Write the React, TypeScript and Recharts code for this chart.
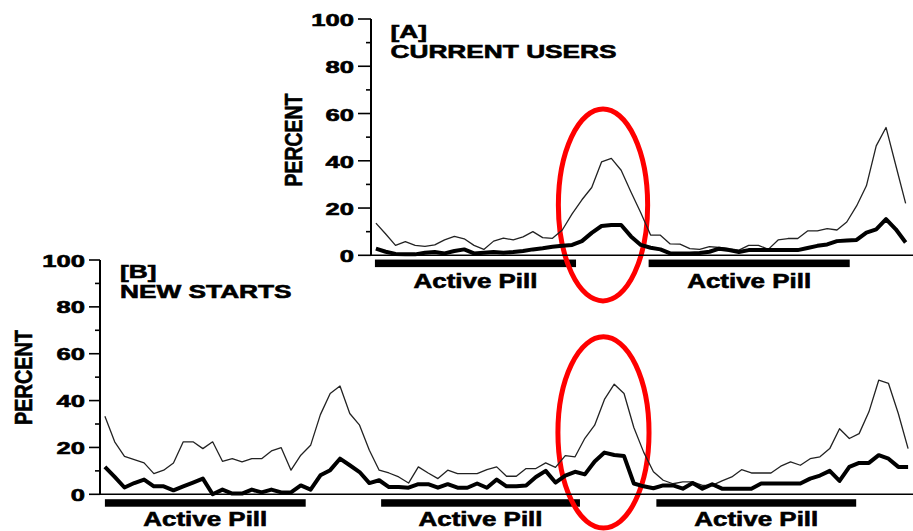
import React from 'react';
import { LineChart, Line, XAxis, YAxis, ReferenceArea } from 'recharts';

const W = 913;
const H = 531;
const FONT = '"Liberation Sans", Arial, Helvetica, sans-serif';

// ---- Panel A: current users (cycle day index 0..54) ----
const bleedingOrSpottingA = [
  13.6, 9, 4.2, 5.8, 4.2, 3.8, 4.4, 6.5, 8, 7,
  4.2, 2.5, 6, 7.3, 6.5, 7.8, 10, 7.5, 7.2, 10.7,
  17.5, 23.5, 28.7, 39.5, 41, 36, 26.8, 18, 8.6, 8.5,
  4.8, 4.7, 2.8, 2.5, 3.7, 3.3, 2.8, 2.2, 4.2, 4.2,
  2.5, 6.5, 7.1, 7.1, 10.3, 10.3, 11.3, 10.7, 14.1, 20.9,
  29.4, 46.3, 54.1, 38, 22,
];
const bleedingA = [
  2.8, 1.5, 0.6, 0.4, 0.4, 1.1, 1.4, 0.8, 1.8, 2.5,
  0.8, 1.1, 1.4, 1.1, 1.4, 1.8, 2.5, 3, 3.6, 4,
  4.4, 6, 9.5, 12.4, 12.8, 12.8, 8, 4.4, 3.2, 2.5,
  0.8, 0.8, 0.8, 1, 1.5, 2.8, 2.2, 1.4, 2.2, 2.2,
  2.2, 2.2, 2.2, 2.2, 3.1, 4, 4.6, 6, 6.3, 6.5,
  9.6, 11, 15.3, 11, 5.4,
];
const activePillA: [number, number][] = [[-0.1, 20.4], [27.8, 48.3]];
const highlightDaysA: [number, number] = [18.6, 27.7];
const highlightPercentA: [number, number] = [-19.3, 61.9];

// ---- Panel B: new starts (cycle day index 0..82) ----
const bleedingOrSpottingB = [
  33.3, 22.4, 16.2, 14.8, 13.4, 8.8, 10.3, 13.4, 22.4, 22.4,
  19.5, 22.4, 14.1, 15.2, 13.8, 15.2, 15.2, 18.5, 19.9, 10.3,
  16.7, 20.9, 34, 43, 46.2, 34.5, 29.5, 18.8, 10.3, 9.1,
  7.4, 4.8, 11.7, 9.1, 6.7, 10.3, 8.8, 8.8, 8.8, 10.5,
  11.7, 7.7, 7.7, 11, 11, 13.4, 11.5, 16.5, 16, 23.9,
  29.5, 40.5, 47, 43, 28.5, 18, 9.6, 6, 4.5, 5.3,
  5.3, 3.8, 3.8, 5.7, 7.4, 10.5, 9.1, 9.1, 9.1, 12,
  13.8, 12.4, 15.2, 16, 19.5, 28, 23.8, 25.9, 35.2, 48.7,
  47.3, 34.5, 19.5,
];
const bleedingB = [
  11.7, 7.4, 2.9, 4.8, 6.3, 3.4, 3.4, 1.7, 3.4, 5,
  6.7, 0, 2, 0.3, 0.3, 2, 0.8, 2, 0.8, 0.8,
  3.8, 2, 8.1, 10.3, 15.2, 12.4, 9.5, 4.8, 6, 3.1,
  3.1, 2.8, 4.3, 4.3, 2.8, 4.3, 2.8, 2.8, 4.6, 2.8,
  6.3, 3.4, 3.4, 3.8, 7.4, 10, 5, 8, 9.6, 8.5,
  14, 17.8, 16.8, 16.3, 4.6, 3.4, 2.6, 3.8, 3.8, 2.4,
  4.8, 2.4, 4.3, 2.4, 2.4, 2.4, 2.4, 4.6, 4.6, 4.6,
  4.6, 4.6, 6.7, 8, 10, 5.7, 11.7, 13.4, 13.4, 16.7,
  15.2, 11.7, 11.7,
];
const activePillB: [number, number][] = [[0, 20.5], [28.2, 48.5], [56.3, 76.7]];
const highlightDaysB: [number, number] = [46.25, 55.55];
const highlightPercentB: [number, number] = [-14.4, 67.2];

const percentTicks = [0, 10, 20, 30, 40, 50, 60, 70, 80, 90, 100];
const labelledStep = 20;

const rowsA = bleedingOrSpottingA.map((v, i) => ({ day: i, any: v, heavy: bleedingA[i] }));
const rowsB = bleedingOrSpottingB.map((v, i) => ({ day: i, any: v, heavy: bleedingB[i] }));

// heavy, slightly outlined bold type
const boldText = {
  fontWeight: 700,
  fontFamily: FONT,
  fill: '#000',
  stroke: '#000',
  strokeWidth: 0.6,
} as const;

function percentTick(majorLen: number, gap: number, baseShift: number) {
  return (p: any) => {
    const { x, y, payload } = p;
    const major = payload.value % labelledStep === 0;
    return (
      <g>
        <line x1={x - (major ? majorLen : 5)} x2={x} y1={y} y2={y} stroke="#000" strokeWidth={1.6} />
        {major && (
          <text
            transform={`translate(${x - majorLen - gap},${y + baseShift}) scale(1.55,1)`}
            textAnchor="end"
            fontSize={16.5}
            {...boldText}
          >
            {payload.value}
          </text>
        )}
      </g>
    );
  };
}

function pillShape(labelGap: number) {
  return (p: any) => {
    const { x, y, width, height } = p;
    return (
      <g>
        <rect x={x} y={y} width={width} height={height} fill="#000" />
        <text
          transform={`translate(${x + width / 2},${y + height + labelGap}) scale(1.33,1)`}
          textAnchor="middle"
          fontSize={19.5}
          {...boldText}
        >
          Active Pill
        </text>
      </g>
    );
  };
}

const ellipseShape = (p: any) => {
  const { x, y, width, height } = p;
  return (
    <ellipse
      cx={x + width / 2}
      cy={y + height / 2}
      rx={width / 2}
      ry={height / 2}
      fill="none"
      stroke="#ff0000"
      strokeWidth={5}
    />
  );
};

type PanelProps = {
  rows: { day: number; any: number; heavy: number }[];
  domainX: [number, number];
  margin: { top: number; right: number; bottom: number; left: number };
  pills: [number, number][];
  pillBand: [number, number];
  pillLabelGap: number;
  highlightDays: [number, number];
  highlightPercent: [number, number];
  tickMajorLen: number;
  tickBaseShift: number;
};

function Panel(props: PanelProps) {
  const {
    rows, domainX, margin, pills, pillBand, pillLabelGap,
    highlightDays, highlightPercent, tickMajorLen, tickBaseShift,
  } = props;
  return (
    <div style={{ position: 'absolute', left: 0, top: 0, width: W, height: H }}>
      <LineChart width={W} height={H} data={rows} margin={margin}>
        <XAxis
          dataKey="day"
          type="number"
          domain={domainX}
          height={1}
          tick={false}
          tickLine={false}
          axisLine={{ stroke: '#000', strokeWidth: 1.4 }}
        />
        <YAxis
          type="number"
          domain={[0, 100]}
          ticks={percentTicks}
          width={1}
          tickSize={0}
          tickMargin={0}
          tickLine={false}
          interval={0}
          axisLine={{ stroke: '#000', strokeWidth: 2 }}
          tick={percentTick(tickMajorLen, 4, tickBaseShift)}
        />
        {pills.map(([a, b], i) => (
          <ReferenceArea
            key={`pill-${i}`}
            x1={a}
            x2={b}
            y1={pillBand[0]}
            y2={pillBand[1]}
            ifOverflow="visible"
            shape={pillShape(pillLabelGap)}
          />
        ))}
        <Line
          type="linear"
          dataKey="any"
          stroke="#222"
          strokeWidth={1.3}
          dot={false}
          activeDot={false}
          isAnimationActive={false}
          strokeLinejoin="round"
        />
        <Line
          type="linear"
          dataKey="heavy"
          stroke="#000"
          strokeWidth={4}
          dot={false}
          activeDot={false}
          isAnimationActive={false}
          strokeLinejoin="round"
        />
        <ReferenceArea
          x1={highlightDays[0]}
          x2={highlightDays[1]}
          y1={highlightPercent[0]}
          y2={highlightPercent[1]}
          ifOverflow="visible"
          shape={ellipseShape}
        />
      </LineChart>
    </div>
  );
}

export default function App() {
  return (
    <div style={{ position: 'absolute', left: 0, top: 0, width: W, height: H, background: '#fff', overflow: 'hidden' }}>
      <Panel
        rows={rowsA}
        domainX={[-0.5, 54.75]}
        margin={{ top: 19, right: 0, bottom: 274.7, left: 370 }}
        pills={activePillA}
        pillBand={[-1.8, -5]}
        pillLabelGap={21}
        highlightDays={highlightDaysA}
        highlightPercent={highlightPercentA}
        tickMajorLen={13}
        tickBaseShift={7}
      />
      <Panel
        rows={rowsB}
        domainX={[-0.5, 82.5]}
        margin={{ top: 260, right: 0, bottom: 35.7, left: 99 }}
        pills={activePillB}
        pillBand={[-2.1, -5.3]}
        pillLabelGap={19}
        highlightDays={highlightDaysB}
        highlightPercent={highlightPercentB}
        tickMajorLen={11}
        tickBaseShift={6.5}
      />
      <svg width={W} height={H} style={{ position: 'absolute', left: 0, top: 0, pointerEvents: 'none' }}>
        <text transform="translate(390.5,37.5) scale(1.42,1)" fontSize={18.5} {...boldText}>[A]</text>
        <text transform="translate(390.5,57.7) scale(1.42,1)" fontSize={18.5} {...boldText}>CURRENT USERS</text>
        <text transform="translate(120,278) scale(1.42,1)" fontSize={18.5} {...boldText}>[B]</text>
        <text transform="translate(120,297.7) scale(1.42,1)" fontSize={18.5} {...boldText}>NEW STARTS</text>
        <text
          transform="translate(293.3,140) rotate(-90)"
          textAnchor="middle"
          dy={8.3}
          fontSize={23}
          textLength={93}
          lengthAdjust="spacingAndGlyphs"
          {...boldText}
        >
          PERCENT
        </text>
        <text
          transform="translate(22.5,377.5) rotate(-90)"
          textAnchor="middle"
          dy={9}
          fontSize={24.5}
          textLength={95}
          lengthAdjust="spacingAndGlyphs"
          {...boldText}
        >
          PERCENT
        </text>
      </svg>
    </div>
  );
}
